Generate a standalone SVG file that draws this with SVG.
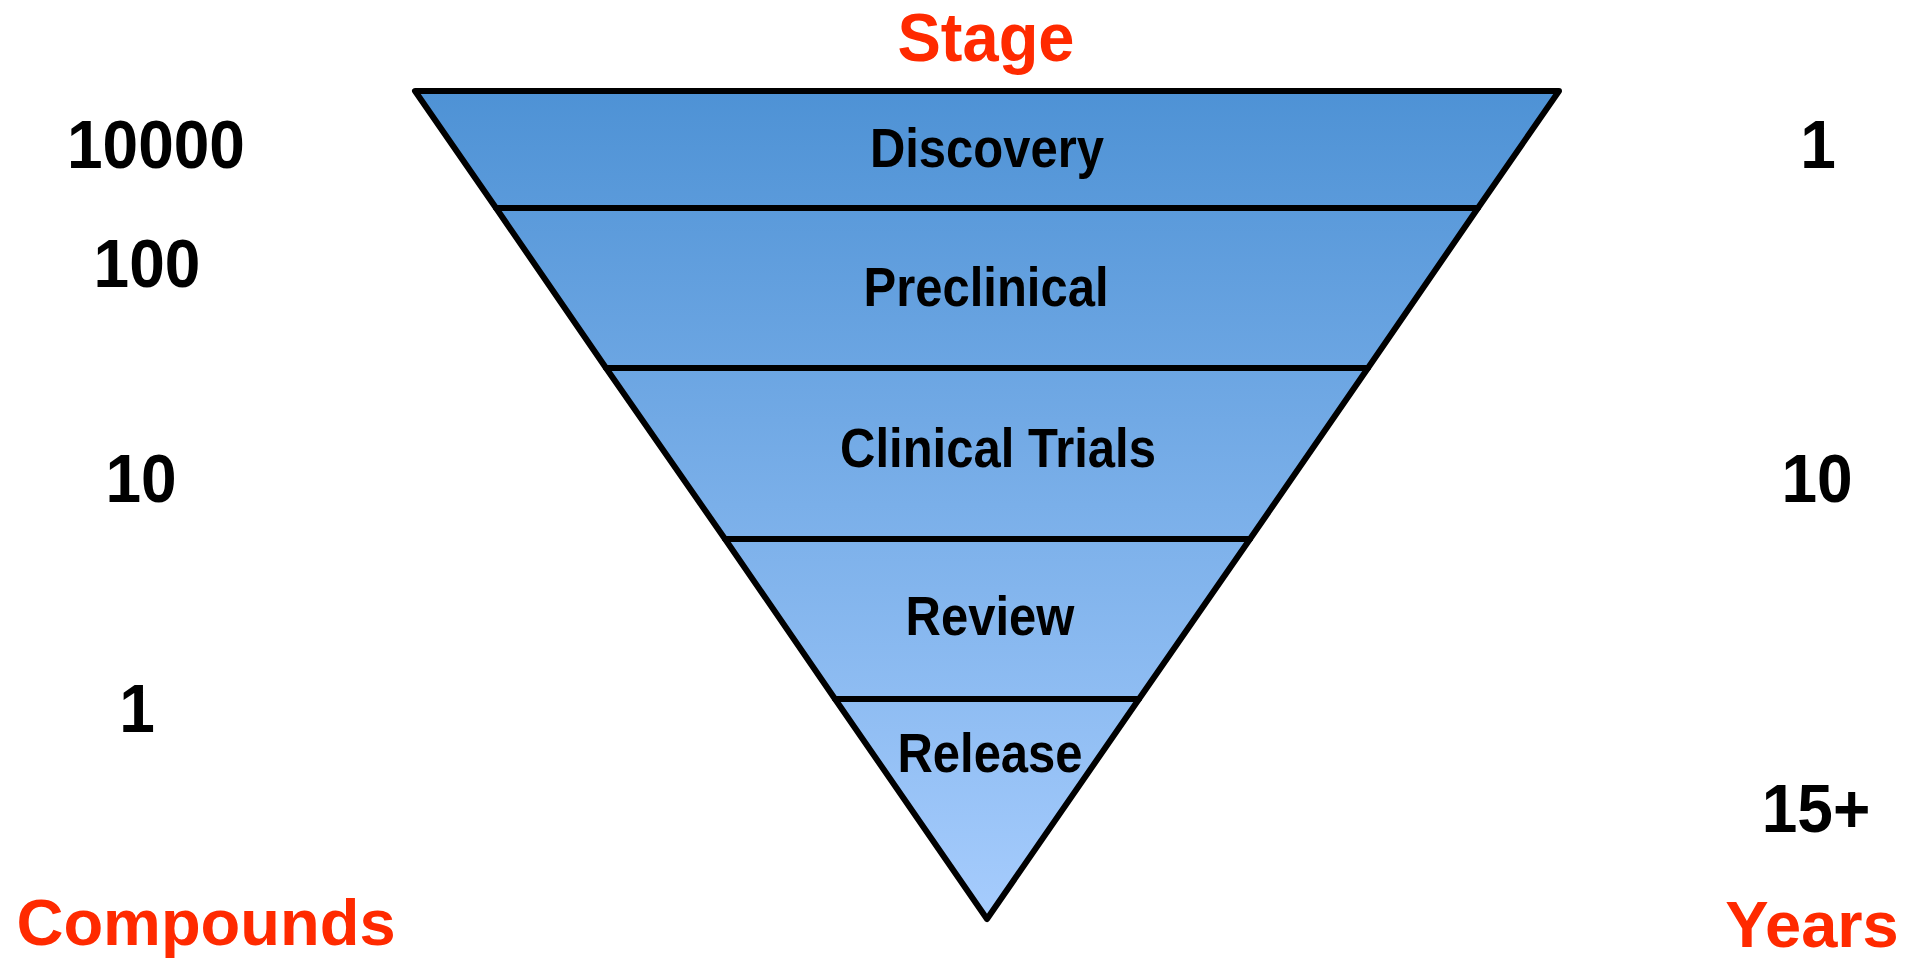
<svg xmlns="http://www.w3.org/2000/svg" width="1919" height="963" viewBox="0 0 1919 963">
<style>
.band{fill:url(#g);stroke:#000;stroke-width:6;stroke-linejoin:round}
.lbl{font-family:"Liberation Sans",Arial,sans-serif;font-weight:bold;font-size:49px;fill:#000;text-anchor:middle}
.num{font-family:"Liberation Sans",Arial,sans-serif;font-weight:bold;font-size:64px;fill:#000;text-anchor:middle}
.head{font-family:"Liberation Sans",Arial,sans-serif;font-weight:bold;font-size:65px;fill:#ff2a00;text-anchor:middle}
</style>
<defs>
<linearGradient id="g" gradientUnits="userSpaceOnUse" x1="0" y1="91" x2="0" y2="919">
<stop offset="0" stop-color="#4e92d5"/>
<stop offset="1" stop-color="#a6ccfd"/>
</linearGradient>
</defs>
<rect width="1919" height="963" fill="#fff"/>
<g id="discovery">
<polygon class="band" points="415,91 1559,91 1478,208 496,208"/>
<text class="lbl" transform="translate(987,167) scale(1,1.12)">Discovery</text>
</g>
<g id="preclinical">
<polygon class="band" points="496,208 1478,208 1368,368 606,368"/>
<text class="lbl" transform="translate(986,306) scale(1,1.12)">Preclinical</text>
</g>
<g id="clinical-trials">
<polygon class="band" points="606,368 1368,368 1250,539 725,539"/>
<text class="lbl" transform="translate(998,467) scale(1,1.12)">Clinical Trials</text>
</g>
<g id="review">
<polygon class="band" points="725,539 1250,539 1139,699 835,699"/>
<text class="lbl" transform="translate(990,635) scale(1,1.12)">Review</text>
</g>
<g id="release">
<polygon class="band" points="835,699 1139,699 987,919"/>
<text class="lbl" transform="translate(990,772) scale(1,1.12)">Release</text>
</g>
<g id="connectors"></g>
<g id="stage-title"><text class="head" transform="translate(986,61) scale(1,1.05)">Stage</text></g>
<g id="compounds">
<text class="num" transform="translate(156,168) scale(1,1.07)">10000</text>
<text class="num" transform="translate(147,287) scale(1,1.07)">100</text>
<text class="num" transform="translate(141,502) scale(1,1.07)">10</text>
<text class="num" transform="translate(137,732) scale(1,1.07)">1</text>
<text class="head" x="206" y="945">Compounds</text>
</g>
<g id="years">
<text class="num" transform="translate(1818,168) scale(1,1.07)">1</text>
<text class="num" transform="translate(1817,502) scale(1,1.07)">10</text>
<text class="num" transform="translate(1816,832) scale(1,1.07)">15+</text>
<text class="head" x="1812" y="947">Years</text>
</g>
</svg>
